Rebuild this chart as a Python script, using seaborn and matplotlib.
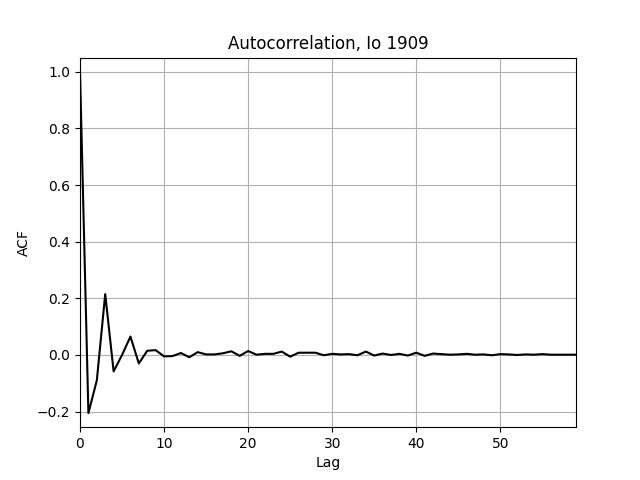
import numpy as np
import pandas as pd
import seaborn as sns
from matplotlib import pyplot as plt

# ACF values
lags = list(range(60))
acf = [1.0, -0.205, -0.09, 0.215, -0.058, 0.0, 0.065, -0.03, 0.015, 0.017,
       -0.005, -0.004, 0.007, -0.008, 0.01, 0.002, 0.002, 0.006, 0.013, -0.003,
       0.014, 0.001, 0.004, 0.004, 0.012, -0.006, 0.008, 0.008, 0.008, -0.001,
       0.004, 0.002, 0.003, -0.001, 0.012, -0.002, 0.005, 0.0, 0.004, -0.002,
       0.008, -0.003, 0.005, 0.003, 0.001, 0.002, 0.004, 0.001, 0.002, -0.001,
       0.003, 0.002, 0.0, 0.002, 0.001, 0.003, 0.001, 0.001, 0.001, 0.001]

df = pd.DataFrame({'Lag': lags, 'ACF': acf})

fig, ax = plt.subplots(figsize=(6.4, 4.8), dpi=100)
sns.lineplot(data=df, x='Lag', y='ACF', color='black', ax=ax)
ax.set_xlim(0, 59)
ax.set_ylim(-0.255, 1.05)
ax.grid(True, color='#b0b0b0')
ax.set_axisbelow(True)
ax.set_title('Autocorrelation, Io 1909')
ax.set_xlabel('Lag')
ax.set_ylabel('ACF')
fig.savefig('out.png')
